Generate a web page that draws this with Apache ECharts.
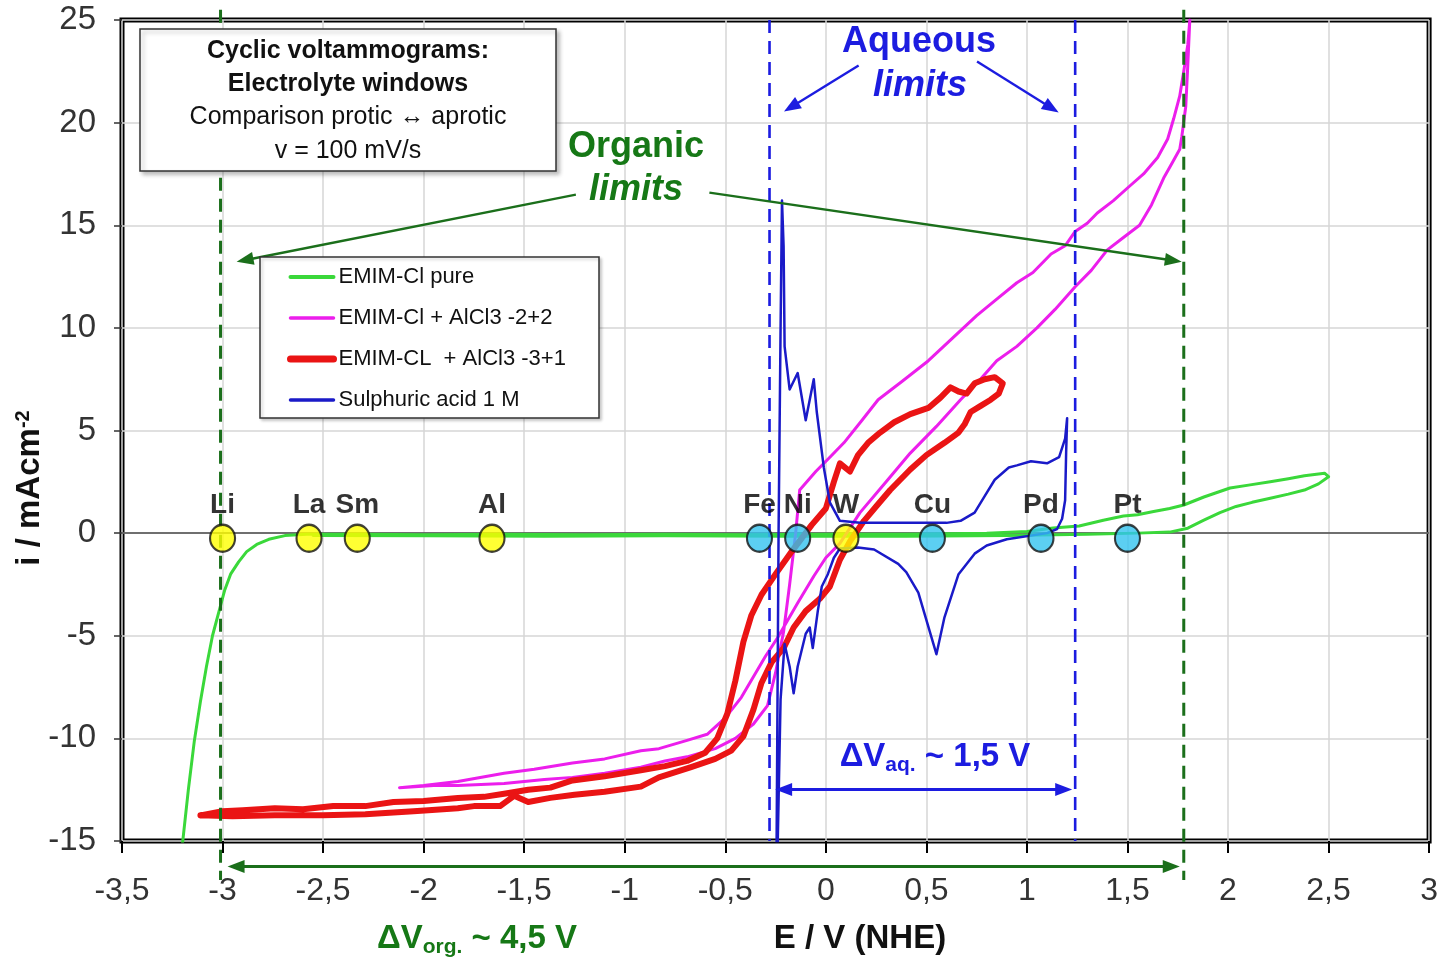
<!DOCTYPE html>
<html>
<head>
<meta charset="utf-8">
<script src="https://cdn.jsdelivr.net/npm/echarts@6/dist/echarts.min.js"></script>
<style>
html,body{margin:0;padding:0;background:#ffffff;}
#chart{width:1441px;height:963px;}
</style>
</head>
<body>
<div id="chart"></div>
<script>
// ---------------- DATA ----------------
const seriesNames = ['EMIM-Cl pure', 'EMIM-Cl + AlCl3 -2+2', 'EMIM-CL  + AlCl3 -3+1', 'Sulphuric acid 1 M'];

// EMIM-Cl pure : [E (V vs NHE), i (mA/cm2)]
const emimPure = [
  [-3.20,-15.2],[-3.17,-12.5],[-3.14,-10.1],[-3.11,-8.2],[-3.08,-6.5],[-3.05,-5.0],[-3.02,-3.9],
  [-2.99,-2.8],[-2.96,-2.0],[-2.92,-1.4],[-2.88,-0.9],[-2.83,-0.55],[-2.77,-0.3],[-2.69,-0.12],
  [-2.58,-0.05],[-2.3,-0.05],[-2.0,-0.08],[-1.6,-0.05],[-1.2,-0.08],[-0.8,-0.06],[-0.4,-0.08],
  [0.0,-0.05],[0.4,-0.05],[0.8,0.0],[1.0,0.08],[1.13,0.25],[1.26,0.35],[1.38,0.63],[1.48,0.83],
  [1.55,0.9],[1.63,1.05],[1.71,1.2],[1.78,1.37],[1.88,1.76],[2.01,2.2],[2.11,2.35],[2.21,2.5],
  [2.30,2.65],[2.38,2.8],[2.48,2.92],[2.50,2.75],[2.45,2.4],[2.38,2.1],[2.30,1.9],[2.21,1.7],
  [2.12,1.5],[2.04,1.3],[1.96,1.0],[1.88,0.63],[1.80,0.24],[1.71,0.05],[1.55,0.0],[1.3,-0.05],
  [0.9,-0.12],[0.4,-0.15],[-0.2,-0.15],[-0.8,-0.13],[-1.4,-0.15],[-2.0,-0.13],[-2.55,-0.12]
];

// EMIM-Cl + AlCl3 -2+2
const emimAl22 = [
  [-0.13,2.1],[-0.05,3.0],[0.02,3.7],[0.09,4.4],[0.18,5.5],[0.26,6.5],[0.38,7.4],[0.51,8.4],
  [0.63,9.5],[0.75,10.6],[0.85,11.4],[0.95,12.2],[1.03,12.7],[1.12,13.6],[1.19,14.0],[1.24,14.7],
  [1.30,15.1],[1.35,15.6],[1.43,16.2],[1.51,16.9],[1.58,17.5],[1.65,18.3],[1.70,19.2],[1.73,20.2],
  [1.76,21.3],[1.78,22.5],[1.80,23.8],[1.81,25.0],
  [1.80,22.8],[1.79,20.8],[1.77,19.3],[1.76,18.7],[1.72,18.0],[1.68,17.3],[1.62,16.0],[1.56,15.0],
  [1.48,14.4],[1.40,13.8],[1.32,12.8],[1.24,12.0],[1.14,10.9],[1.05,10.0],[0.95,9.1],[0.85,8.4],
  [0.76,7.4],[0.67,6.5],[0.55,5.2],[0.42,3.9],[0.30,2.5],[0.17,1.0],[0.07,-0.5],[0.0,-1.2],
  [-0.06,-2.1],[-0.14,-3.4],[-0.24,-5.1],[-0.30,-6.0],[-0.36,-7.0],[-0.42,-8.0],[-0.50,-9.0],
  [-0.59,-9.8],[-0.69,-10.1],[-0.83,-10.5],[-0.92,-10.6],[-1.1,-11.0],[-1.26,-11.2],[-1.45,-11.5],
  [-1.6,-11.7],[-1.83,-12.1],[-2.0,-12.3],[-2.12,-12.4],
  [-1.95,-12.3],[-1.83,-12.3],[-1.6,-12.2],[-1.4,-12.0],[-1.26,-11.9],[-1.1,-11.7],[-0.92,-11.4],
  [-0.8,-11.1],[-0.69,-10.9],[-0.55,-10.5],[-0.45,-10.0],[-0.36,-9.3],[-0.29,-8.4],[-0.25,-6.8],
  [-0.21,-4.8],[-0.18,-2.5],[-0.15,0.0],[-0.13,2.1]
];

// EMIM-CL + AlCl3 -3+1
const emimAl31 = [
  [-3.11,-13.75],[-3.0,-13.55],[-2.9,-13.5],[-2.74,-13.4],[-2.6,-13.45],[-2.45,-13.3],[-2.29,-13.3],
  [-2.15,-13.1],[-2.0,-13.05],[-1.83,-12.9],[-1.7,-12.85],[-1.6,-12.7],[-1.48,-12.5],[-1.37,-12.4],
  [-1.26,-12.05],[-1.1,-11.85],[-0.92,-11.55],[-0.8,-11.35],[-0.69,-11.1],[-0.6,-10.7],[-0.54,-10.0],
  [-0.49,-8.8],[-0.45,-7.2],[-0.41,-5.3],[-0.37,-4.0],[-0.32,-3.0],[-0.25,-2.0],[-0.17,-0.9],
  [-0.07,0.4],[0.0,1.2],[0.04,2.5],[0.07,3.4],[0.12,3.0],[0.16,3.8],[0.21,4.4],[0.27,4.9],[0.34,5.4],
  [0.42,5.8],[0.51,6.1],[0.57,6.6],[0.62,7.1],[0.66,6.9],[0.70,6.8],[0.74,7.3],[0.79,7.5],[0.84,7.6],
  [0.88,7.3],[0.86,6.8],[0.82,6.5],[0.77,6.2],[0.72,5.9],[0.69,5.3],[0.66,4.9],[0.59,4.4],[0.50,3.8],
  [0.42,3.1],[0.32,2.1],[0.25,1.3],[0.19,0.6],[0.12,-0.4],[0.07,-1.3],[0.02,-2.6],[-0.03,-3.2],
  [-0.10,-3.8],[-0.16,-4.6],[-0.21,-5.6],[-0.27,-6.3],[-0.32,-7.3],[-0.36,-8.6],[-0.41,-9.9],
  [-0.47,-10.6],[-0.55,-11.0],[-0.67,-11.4],[-0.83,-11.9],[-0.92,-12.35],[-1.1,-12.6],[-1.25,-12.75],
  [-1.37,-12.9],[-1.48,-13.1],[-1.55,-12.8],[-1.62,-13.3],[-1.75,-13.3],[-1.83,-13.4],[-2.05,-13.55],
  [-2.29,-13.7],[-2.5,-13.75],[-2.74,-13.75],[-2.95,-13.8],[-3.11,-13.75]
];

// Sulphuric acid 1 M
const sulphuric = [
  [-0.245,-15.5],[-0.235,0],[-0.225,10],[-0.218,16.2],[-0.210,14.0],[-0.205,9.1],[-0.18,7.0],
  [-0.14,7.8],[-0.10,5.5],[-0.06,7.5],[-0.045,5.9],[-0.01,3.2],[0.02,1.5],[0.07,0.6],[0.17,0.5],
  [0.42,0.5],[0.60,0.5],[0.67,0.6],[0.74,1.0],[0.79,1.8],[0.84,2.6],[0.91,3.2],[0.95,3.3],[1.02,3.5],
  [1.10,3.4],[1.16,3.7],[1.19,4.6],[1.20,5.6],[1.195,3.9],[1.19,1.6],[1.175,0.7],[1.15,0.2],[1.10,0.0],
  [0.90,-0.3],[0.80,-0.6],[0.74,-1.0],[0.66,-2.0],[0.59,-4.1],[0.55,-5.9],[0.52,-4.9],[0.46,-2.9],
  [0.40,-1.9],[0.36,-1.5],[0.24,-0.8],[0.16,-0.7],[0.07,-0.75],[0.04,-1.2],[0.01,-2.0],[-0.02,-2.6],
  [-0.04,-3.8],[-0.065,-5.6],[-0.08,-4.6],[-0.10,-4.9],[-0.14,-6.5],[-0.16,-7.8],[-0.18,-6.5],
  [-0.205,-5.4],[-0.225,-8.1],[-0.24,-15.5]
];

// Reference electrode potentials marked on the chart
const elementNames      = ['Li', 'La', 'Sm', 'Al', 'Fe', 'Ni', 'W', 'Cu', 'Pd', 'Pt'];
const elementPotentials = [-3.0, -2.57, -2.33, -1.66, -0.33, -0.14, 0.1, 0.53, 1.07, 1.5];
const elementGroups     = ['y', 'y', 'y', 'y', 'c', 'c', 'y', 'c', 'c', 'c'];
const elementLevel = -0.25;

// Electrochemical windows (V)
const organicLimits = [-3.01, 1.78];
const aqueousLimits = [-0.28, 1.24];

// Axes
const xMin = -3.5, xMax = 3, xStep = 0.5;
const yMin = -15, yMax = 25, yStep = 5;

// ---------------- STYLE ----------------
const FONT = "'Liberation Sans', Arial, Helvetica, sans-serif";
const C_GREEN = '#3ad83a';
const C_MAGENTA = '#ec1eec';
const C_RED = '#ea1414';
const C_BLUE = '#1a1ac8';
const C_ANN_BLUE = '#1c1ce0';
const C_ANN_GREEN = '#1b6f1b';
const C_TEXT_GREEN = '#167816';

const chart = echarts.init(document.getElementById('chart'), null, {renderer: 'canvas'});

const elementData = elementNames.map((n, i) => ({
  name: n,
  value: [elementPotentials[i], elementLevel],
  itemStyle: {color: elementGroups[i] === 'y' ? '#ffff00' : '#33c3ef'}
}));

function lineSeries(name, data, color, width, z) {
  return {
    name: name, type: 'line', data: data, symbol: 'none', showSymbol: false,
    smooth: false, clip: true, z: z, silent: true, animation: false,
    lineStyle: {color: color, width: width, join: 'round', cap: 'round'},
    itemStyle: {color: color}
  };
}

const option = {
  animation: false,
  backgroundColor: '#ffffff',
  grid: {
    left: 122, right: 6, top: 20, bottom: 122,
    show: true, borderColor: '#000', borderWidth: 5, backgroundColor: 'rgba(0,0,0,0)'
  },
  xAxis: {
    type: 'value', min: xMin, max: xMax, interval: xStep,
    axisLine: {show: false, onZero: false},
    axisTick: {show: true, length: 12, inside: false, lineStyle: {color: '#000', width: 2}},
    axisLabel: {
      margin: 34, fontSize: 32, color: '#333', fontFamily: FONT,
      formatter: v => String(v).replace('.', ',')
    },
    splitLine: {show: true, lineStyle: {color: '#d6d6d6', width: 1.5}}
  },
  yAxis: {
    type: 'value', min: yMin, max: yMax, interval: yStep,
    axisLine: {show: false, onZero: false},
    axisTick: {show: true, length: 8, inside: false, lineStyle: {color: '#333', width: 1.5}},
    axisLabel: {margin: 26, fontSize: 33, color: '#333', fontFamily: FONT},
    splitLine: {show: true, lineStyle: {color: '#d6d6d6', width: 1.5}}
  },
  legend: {
    data: [
      {name: seriesNames[0], lineStyle: {width: 4, color: C_GREEN}},
      {name: seriesNames[1], lineStyle: {width: 3.5, color: C_MAGENTA}},
      {name: seriesNames[2], lineStyle: {width: 7, color: C_RED}},
      {name: seriesNames[3], lineStyle: {width: 3.5, color: C_BLUE}}
    ],
    orient: 'vertical', left: 287, top: 266, padding: 0,
    itemWidth: 43, itemHeight: 14, itemGap: 19,
    itemStyle: {opacity: 0},
    selectedMode: false, z: 26,
    textStyle: {fontSize: 22, color: '#111', fontFamily: FONT, padding: [0, 0, 0, 0]}
  },
  series: [
    Object.assign(lineSeries(seriesNames[0], emimPure, C_GREEN, 3, 3), {
      markLine: {
        silent: true, symbol: ['none', 'none'], label: {show: false},
        lineStyle: {color: '#4a4a4a', width: 1.5, type: 'solid'},
        data: [{yAxis: 0}], z: 1
      }
    }),
    lineSeries(seriesNames[1], emimAl22, C_MAGENTA, 3, 4),
    lineSeries(seriesNames[2], emimAl31, C_RED, 6, 5),
    lineSeries(seriesNames[3], sulphuric, C_BLUE, 2.5, 6),
    {
      name: 'elements', type: 'scatter', data: elementData, z: 12, silent: true,
      symbol: 'circle', symbolSize: [25, 27],
      itemStyle: {borderColor: '#111', borderWidth: 2.2},
      label: {
        show: true, position: 'top', distance: 4, formatter: '{b}',
        fontSize: 28, fontWeight: 'bold', color: '#000', fontFamily: FONT
      }
    }
  ]
};

chart.setOption(option);

// ---------------- ANNOTATIONS (placed through the chart's own scales) ----------------
function P(x, y) { return chart.convertToPixel({seriesIndex: 0}, [x, y]); }

function arrowEls(p0, p1, color, width, both, z) {
  const dx = p1[0] - p0[0], dy = p1[1] - p0[1];
  const L = Math.hypot(dx, dy), ux = dx / L, uy = dy / L;
  const head = 17, hw = 6.5;
  const els = [];
  function tip(p, s) {
    const bx = p[0] - ux * head * s, by = p[1] - uy * head * s;
    return {type: 'polygon', z: z, silent: true,
      shape: {points: [[p[0], p[1]], [bx - uy * hw, by + ux * hw], [bx + uy * hw, by - ux * hw]]},
      style: {fill: color}};
  }
  const s0 = both ? [p0[0] + ux * head * 0.7, p0[1] + uy * head * 0.7] : p0;
  const s1 = [p1[0] - ux * head * 0.7, p1[1] - uy * head * 0.7];
  els.push({type: 'line', z: z, silent: true, shape: {x1: s0[0], y1: s0[1], x2: s1[0], y2: s1[1]},
    style: {stroke: color, lineWidth: width}});
  els.push(tip(p1, 1));
  if (both) els.push(tip(p0, -1));
  return els;
}

function txt(x, y, text, size, color, opts) {
  opts = opts || {};
  return {
    type: 'text', x: x, y: y, z: opts.z || 22, silent: true, rotation: opts.rotation || 0,
    style: Object.assign({
      text: text, fill: color, fontSize: size, fontFamily: FONT,
      fontWeight: opts.bold ? 'bold' : 'normal', fontStyle: opts.italic ? 'italic' : 'normal',
      align: 'center', verticalAlign: 'middle'
    }, opts.style || {})
  };
}

const els = [];

// organic limits (dark green dashed, extending past the frame)
organicLimits.forEach(v => {
  const a = P(v, 25.5), b = P(v, -16.9);
  els.push({type: 'line', z: 7, silent: true, shape: {x1: a[0], y1: a[1], x2: b[0], y2: b[1]},
    style: {stroke: C_ANN_GREEN, lineWidth: 3, lineDash: [13, 8]}});
});
// aqueous limits (blue dashed)
aqueousLimits.forEach(v => {
  const a = P(v, yMax), b = P(v, yMin);
  els.push({type: 'line', z: 7, silent: true, shape: {x1: a[0], y1: a[1], x2: b[0], y2: b[1]},
    style: {stroke: C_ANN_BLUE, lineWidth: 2.6, lineDash: [13, 8]}});
});

// arrows from labels to limits
els.push(...arrowEls(P(0.163, 22.78), P(-0.208, 20.54), C_ANN_BLUE, 2.4, false, 20));
els.push(...arrowEls(P(0.752, 22.98), P(1.158, 20.49), C_ANN_BLUE, 2.4, false, 20));
els.push(...arrowEls(P(-1.243, 16.49), P(organicLimits[0] + 0.08, 13.22), C_ANN_GREEN, 2.4, false, 20));
els.push(...arrowEls(P(-0.579, 16.59), P(organicLimits[1] - 0.01, 13.22), C_ANN_GREEN, 2.4, false, 20));

// window width arrows
els.push(...arrowEls(P(organicLimits[0] + 0.035, -16.24), P(organicLimits[1] - 0.02, -16.24), C_ANN_GREEN, 3, true, 20));
els.push(...arrowEls(P(-0.252, -12.49), P(aqueousLimits[1] - 0.015, -12.49), C_ANN_BLUE, 3, true, 20));

// annotation texts
els.push(txt(919, 42, 'Aqueous', 36, C_ANN_BLUE, {bold: true}));
els.push(txt(920, 86, 'limits', 36, C_ANN_BLUE, {bold: true, italic: true}));
els.push(txt(636, 147, 'Organic', 36, C_TEXT_GREEN, {bold: true}));
els.push(txt(636, 190, 'limits', 36, C_TEXT_GREEN, {bold: true, italic: true}));

els.push(txt(477, 940, '{a|ΔV}{b|org.}{a| ~ 4,5 V}', 33, C_TEXT_GREEN, {style: {
  rich: {
    a: {fontSize: 33, fontWeight: 'bold', fill: C_TEXT_GREEN, fontFamily: FONT, verticalAlign: 'top'},
    b: {fontSize: 21, fontWeight: 'bold', fill: C_TEXT_GREEN, fontFamily: FONT, verticalAlign: 'top', padding: [15, 0, 0, 0]}
  }}}));
els.push(txt(935, 758, '{a|ΔV}{b|aq.}{a| ~ 1,5 V}', 33, C_ANN_BLUE, {style: {
  rich: {
    a: {fontSize: 33, fontWeight: 'bold', fill: C_ANN_BLUE, fontFamily: FONT, verticalAlign: 'top'},
    b: {fontSize: 21, fontWeight: 'bold', fill: C_ANN_BLUE, fontFamily: FONT, verticalAlign: 'top', padding: [15, 0, 0, 0]}
  }}}));

// axis titles
els.push(txt(860, 939, 'E / V (NHE)', 33, '#111', {bold: true}));
els.push(txt(30, 488, '{a|i / mAcm}{s|-2}', 33, '#111', {rotation: Math.PI / 2, style: {
  rich: {
    a: {fontSize: 33, fontWeight: 'bold', fill: '#111', fontFamily: FONT, verticalAlign: 'top'},
    s: {fontSize: 20, fontWeight: 'bold', fill: '#111', fontFamily: FONT, verticalAlign: 'top'}
  }}}));

// title box
els.push({type: 'rect', z: 30, silent: true, shape: {x: 140, y: 29, width: 416, height: 142},
  style: {fill: '#fff', stroke: '#333', lineWidth: 1.5,
    shadowBlur: 4, shadowOffsetX: 3, shadowOffsetY: 3, shadowColor: 'rgba(0,0,0,0.25)'}});
els.push(txt(348, 51, 'Cyclic voltammograms:', 25, '#111', {bold: true, z: 31}));
els.push(txt(348, 84, 'Electrolyte windows', 25, '#111', {bold: true, z: 31}));
els.push(txt(348, 117, 'Comparison protic \u2194 aprotic', 25, '#111', {z: 31}));
els.push(txt(348, 151, 'v = 100 mV/s', 25, '#111', {z: 31}));

// legend frame
els.push({type: 'rect', z: 25, silent: true, shape: {x: 260, y: 257, width: 339, height: 161},
  style: {fill: '#fff', stroke: '#333', lineWidth: 1.5,
    shadowBlur: 3, shadowOffsetX: 2, shadowOffsetY: 2, shadowColor: 'rgba(0,0,0,0.2)'}});

chart.setOption({graphic: {elements: els}});
</script>
</body>
</html>
